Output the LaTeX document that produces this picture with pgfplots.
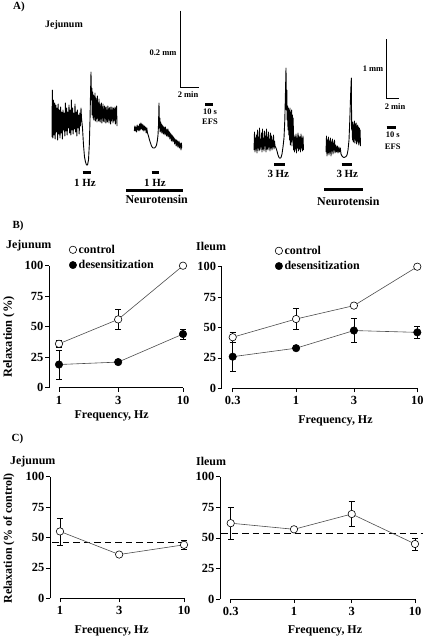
\documentclass[border=0pt]{standalone}
\usepackage{fontspec}
\setmainfont{Liberation Serif}
\usepackage{pgfplots}
\pgfplotsset{compat=1.18}
\pgfplotsset{
  canvas/.style={scale only axis, width=425bp, height=640bp, xmin=0, xmax=425, ymin=0, ymax=640,
    y dir=reverse, axis lines=none, clip=false, at={(0,0)}, anchor=north west},
  trace/.style={black, line width=0.9pt, line join=round, mark=none},
  sbar/.style={black, line width=0.8pt, mark=none},
  stim/.style={black, line width=3.5pt, mark=none},
  dataax/.style={scale only axis, xmax=10, ymin=0, ymax=100, clip=false,
    axis lines*=left, x axis line style={draw=none}, axis line style={line width=0.7pt},
    tick align=outside, major tick length=4bp, minor xtick={},
    tick style={black, line width=0.7pt},
    ytick={0,25,50,75,100}, yticklabels={0,25,50,75,100},
    ticklabel style={font=\fontsize{12.5}{14}\selectfont\bfseries},
    yticklabel style={inner sep=1.5pt},
    xticklabel style={yshift=-3bp, inner sep=1pt},
    legend cell align=left,
    legend image code/.code={\draw[##1] plot coordinates {(0cm,0cm)};},
    legend style={draw=none, fill=none, font=\fontsize{12}{14}\selectfont\bfseries,
      inner sep=0pt, row sep=1.5pt, anchor=north west}},
  err/.style={only marks, mark=none, forget plot, error bars/.cd, y dir=both, y explicit,
    error bar style={black, line width=0.6pt},
    error mark options={rotate=90, mark size=3bp, black, line width=0.6pt}},
  ctrl/.style={forget plot, black!70, line width=0.6pt, mark=*, mark size=3.7bp,
    mark options={fill=white, draw=black, line width=0.6pt}},
  desn/.style={forget plot, black!70, line width=0.6pt, mark=*, mark size=3.7bp,
    mark options={fill=black, draw=black}},
  axline/.style={black, line width=0.7pt, mark=none, forget plot},
}
\begin{document}
\bfseries
\begin{tikzpicture}
\path[use as bounding box] (0,0) rectangle (425bp,-640bp);
% ---------------- canvas: panel A and free text ----------------
\begin{axis}[canvas]
% trace 1
\addplot[trace] coordinates {
(52,137) (52.3,90) (52.8,138) (53.3,100) (54,135) (54.6,103) (55.2,139) (55.8,105) (56.4,132) (57,108)
(57.6,140) (58.2,104) (58.8,134) (59.4,110) (60,138) (60.6,107) (61.2,133) (61.8,112) (62.4,139) (63,110)
(63.6,130) (64.2,113) (64.8,136) (65.4,103) (66,131) (66.6,108) (67.2,135) (67.8,112) (68.4,128) (69,105)
(69.6,133) (70.2,110) (70.8,135) (71.4,100) (72,130) (72.6,108) (73.2,134) (73.8,113) (74.4,129) (75,104)
(75.6,132) (76.2,112) (76.8,136) (77.4,110) (78,128) (78.6,115) (79.2,134) (79.8,113) (80.4,126) (81,108)
(81.5,118) (82.5,128) (83.5,145) (84.5,157) (85.5,162) (86.5,165) (87.5,165) (88.5,160) (89.3,145) (90,120)
(90.5,95) (91,72) (91.4,100) (91.8,88) (92.2,115) (92.6,92) (93,118) (93.4,95) (93.8,120) (94.2,96)
(94.6,117) (95,93) (95.4,121) (95.8,98) (96.2,119) (96.6,100) (97,122) (97.4,96) (97.8,118) (98.2,103)
(98.6,121) (99,99) (99.4,120) (99.8,104) (100.2,122) (100.6,106) (101,119) (101.4,103) (101.8,123) (102.2,107)
(102.6,118) (103,104) (103.4,121) (103.8,109) (104.2,122) (104.6,106) (105,118) (105.4,108) (105.8,123) (106.2,107)
(106.6,120) (107,110) (107.4,122) (107.8,106) (108.2,119) (108.6,109) (109,123) (109.4,108) (109.8,120) (110.2,107)
(110.6,124) (111,110) (111.4,121) (111.8,107) (112.2,119) (112.6,110) (113,123) (113.4,108) (113.8,121) (114.2,109)
(114.6,120) (115,107) (115.4,124) (115.8,108) (116.2,119) (116.6,106) (117,126)};
% trace 2
\addplot[trace] coordinates {
(134.3,131) (134.8,126) (135.4,131) (136,127) (136.6,132) (137.2,125) (137.8,130) (138.4,126) (139,131) (139.6,124)
(140.2,130) (140.8,123) (141.4,129) (142,124) (142.6,130) (143.2,125) (143.8,131) (144.4,126) (145,130) (145.6,127)
(146.2,133) (146.8,128) (147.5,133) (148.5,136) (149.5,140) (150.5,143) (151.5,146) (152.5,147.5) (153.5,148) (154.5,148)
(155.5,147) (156.5,145) (157.3,141) (158,135) (158.5,125) (159,103) (159.4,128) (159.8,118) (160.2,132) (160.6,122)
(161,131) (161.4,124) (161.8,133) (162.2,125) (162.6,132) (163,126) (163.4,134) (163.8,127) (164.2,133) (164.6,128)
(165,135) (165.4,127) (165.8,134) (166.2,129) (166.6,136) (167,130) (167.4,135) (167.8,129) (168.2,137) (168.6,131)
(169,136) (169.4,132) (169.8,139) (170.2,133) (170.6,138) (171,134) (171.4,141) (171.8,135) (172.2,140) (172.6,136)
(173,142) (173.4,137) (173.8,141) (174.2,138) (174.6,144) (175,139) (175.4,143) (175.8,140) (176.2,146) (176.6,140)
(177,145) (177.4,141) (177.8,147) (178.2,142) (178.6,146) (179,141) (179.4,148) (179.8,143) (180.2,147) (180.6,144)
(181,150) (181.4,143) (181.8,148)};
% trace 3
\addplot[trace] coordinates {
(254,150) (254.5,132) (255,152) (255.5,138) (256,149) (256.5,135) (257,153) (257.5,130) (258,148) (258.5,137)
(259,151) (259.5,128) (260,150) (260.5,139) (261,147) (261.5,133) (262,152) (262.5,129) (263,149) (263.5,138)
(264,151) (264.5,131) (265,146) (265.5,136) (266,152) (266.5,129) (267,149) (267.5,137) (268,150) (268.5,132)
(269,147) (269.5,139) (270,151) (270.5,133) (271,148) (271.5,136) (272,150) (272.5,140) (273,147) (273.5,135)
(274,149) (274.5,141) (275,146) (276,148) (277,151) (278,155) (279,157.5) (280,158.3) (281,157.5) (282,154)
(283,147) (284,138) (284.8,120) (285.4,95) (286,68) (286.4,110) (286.8,90) (287.2,120) (287.6,106) (288,130)
(288.4,108) (288.8,135) (289.2,110) (289.6,140) (290,108) (290.4,145) (290.8,112) (291.2,142) (291.6,110) (292,146)
(292.4,115) (292.8,140) (293.2,118) (293.6,150) (294,135) (294.5,152) (295,137) (295.5,149) (296,134) (296.5,153)
(297,138) (297.5,148) (298,133) (298.5,151) (299,136) (299.5,149) (300,137) (300.5,152) (301,134) (301.5,148)
(302,138) (302.5,151) (303,136) (303.5,150)};
% trace 4
\addplot[trace] coordinates {
(326,152) (326.5,136) (327,156) (327.5,140) (328,153) (328.5,137) (329,155) (329.5,141) (330,152) (330.5,138)
(331,156) (331.5,142) (332,151) (332.5,139) (333,154) (333.5,143) (334,150) (334.5,140) (335,153) (335.7,145)
(336.5,152) (337.3,146) (338,153) (338.8,147) (339.5,152) (340.3,148) (341,154) (342,156) (343,157) (344,157.5)
(345,157) (346,156.5) (347,155) (348,150) (349,140) (349.8,120) (350.6,95) (351.3,78) (351.7,130) (352.1,124)
(352.5,140) (352.9,122) (353.3,142) (353.7,125) (354.1,139) (354.5,121) (354.9,143) (355.3,124) (355.7,140) (356.1,123)
(356.5,144) (356.9,126) (357.3,141) (357.7,125) (358.1,143) (358.5,127) (358.9,145) (359.3,128) (359.7,142) (360.1,130)
(360.5,146)};
% scale bars
\addplot[sbar] coordinates {(180.7,10.7) (180.7,87) (199,87)};
\addplot[sbar] coordinates {(386.7,39.3) (386.7,98.3) (399.3,98.3)};
\addplot[black, line width=3pt, mark=none] coordinates {(205,104.3) (213,104.3)};
\addplot[black, line width=3pt, mark=none] coordinates {(386.7,127.7) (396,127.7)};
% stimulation bars
\addplot[stim] coordinates {(82.7,172.7) (90.7,172.7)};
\addplot[stim] coordinates {(151.7,172.7) (159.3,172.7)};
\addplot[stim] coordinates {(274,164.7) (285,164.7)};
\addplot[stim] coordinates {(341.7,164.7) (351.7,164.7)};
\addplot[black, line width=3pt, mark=none] coordinates {(126,190) (182.7,190)};
\addplot[black, line width=3pt, mark=none] coordinates {(324,189.3) (362.7,189.3)};
% texts panel A
\node[font=\fontsize{11}{13}\selectfont\bfseries] at (axis cs:19,7) {A)};
\node[font=\fontsize{10}{12}\selectfont\bfseries] at (axis cs:64,25) {Jejunum};
\node[font=\fontsize{8.5}{10}\selectfont\bfseries] at (axis cs:163,53) {0.2 mm};
\node[font=\fontsize{8.5}{10}\selectfont\bfseries] at (axis cs:188,95) {2 min};
\node[font=\fontsize{8.5}{10}\selectfont\bfseries] at (axis cs:210,111.7) {10 s};
\node[font=\fontsize{8.5}{10}\selectfont\bfseries] at (axis cs:210,122) {EFS};
\node[font=\fontsize{11}{13}\selectfont\bfseries] at (axis cs:85,183.3) {1 Hz};
\node[font=\fontsize{11}{13}\selectfont\bfseries] at (axis cs:155,183.3) {1 Hz};
\node[font=\fontsize{12}{14}\selectfont\bfseries] at (axis cs:156.7,199.5) {Neurotensin};
\node[font=\fontsize{8.5}{10}\selectfont\bfseries] at (axis cs:373,69) {1 mm};
\node[font=\fontsize{8.5}{10}\selectfont\bfseries] at (axis cs:395,106.7) {2 min};
\node[font=\fontsize{8.5}{10}\selectfont\bfseries] at (axis cs:392.7,135) {10 s};
\node[font=\fontsize{8.5}{10}\selectfont\bfseries] at (axis cs:392.7,147) {EFS};
\node[font=\fontsize{11}{13}\selectfont\bfseries] at (axis cs:278.3,174) {3 Hz};
\node[font=\fontsize{11}{13}\selectfont\bfseries] at (axis cs:347.3,174) {3 Hz};
\node[font=\fontsize{12}{14}\selectfont\bfseries] at (axis cs:348.3,201) {Neurotensin};
% texts panels B, C
\node[font=\fontsize{11}{13}\selectfont\bfseries] at (axis cs:18,226) {B)};
\node[font=\fontsize{12}{14}\selectfont\bfseries, anchor=west, inner sep=0pt] at (axis cs:6,246) {Jejunum};
\node[font=\fontsize{12}{14}\selectfont\bfseries, anchor=west, inner sep=0pt] at (axis cs:196,246) {Ileum};
\node[font=\fontsize{12}{14}\selectfont\bfseries] at (axis cs:111.7,416) {Frequency, Hz};
\node[font=\fontsize{12}{14}\selectfont\bfseries] at (axis cs:335.5,421) {Frequency, Hz};
\node[font=\fontsize{12.5}{14}\selectfont\bfseries, rotate=90] at (axis cs:9,337) {Relaxation (\%)};
\node[font=\fontsize{11}{13}\selectfont\bfseries] at (axis cs:17.5,439) {C)};
\node[font=\fontsize{12}{14}\selectfont\bfseries, anchor=west, inner sep=0pt] at (axis cs:10,461.7) {Jejunum};
\node[font=\fontsize{12}{14}\selectfont\bfseries, anchor=west, inner sep=0pt] at (axis cs:196,461.7) {Ileum};
\node[font=\fontsize{12}{14}\selectfont\bfseries] at (axis cs:111.7,631) {Frequency, Hz};
\node[font=\fontsize{12}{14}\selectfont\bfseries] at (axis cs:325,631) {Frequency, Hz};
\node[font=\fontsize{12}{14}\selectfont\bfseries, rotate=90] at (axis cs:9,538.3) {Relaxation (\% of control)};
\end{axis}
% ---------------- B Jejunum ----------------
\begin{axis}[xmode=log, dataax, at={(49bp,-387.7bp)}, anchor=south west, width=134bp, height=122bp,
  xmin=0.8307, xtick={1,3,10}, xticklabels={1,3,10},
  legend style={at={(axis cs:1.205,100)}, yshift=23bp}]
\addplot[axline] coordinates {(1,0) (10,0)};
\addplot[err] table[x=x, y=y, y error=e] {
x y e
1 19 12
3 21 0
10 44 4
};
\addplot[err] table[x=x, y=y, y error=e] {
x y e
1 36 3
3 56 8
10 100 0
};
\addplot[desn] table[x=x, y=y] {
x y
1 19
3 21
10 44
};
\addplot[ctrl] table[x=x, y=y] {
x y
1 36
3 56
10 100
};
\addlegendimage{only marks, mark=*, mark size=3.7bp, mark options={fill=white, draw=black, line width=0.6pt}}
\addlegendentry{control}
\addlegendimage{only marks, mark=*, mark size=3.7bp, mark options={fill=black, draw=black}}
\addlegendentry{desensitization}
\end{axis}
% ---------------- B Ileum ----------------
\begin{axis}[xmode=log, dataax, at={(221.7bp,-388.3bp)}, anchor=south west, width=195.6bp, height=121.6bp,
  xmin=0.2434, xtick={0.3,1,3,10}, xticklabels={0.3,1,3,10},
  legend style={at={(axis cs:0.670,100)}, yshift=23bp}]
\addplot[axline] coordinates {(0.3,0) (10,0)};
\addplot[err] table[x=x, y=y, y error=e] {
x y e
0.3 26 12
1 33 0
3 47.5 10
10 46 5
};
\addplot[err] table[x=x, y=y, y error=e] {
x y e
0.3 42 4
1 57 8.5
3 68 0
10 100 0
};
\addplot[desn] table[x=x, y=y] {
x y
0.3 26
1 33
3 47.5
10 46
};
\addplot[ctrl] table[x=x, y=y] {
x y
0.3 42
1 57
3 68
10 100
};
\addlegendimage{only marks, mark=*, mark size=3.7bp, mark options={fill=white, draw=black, line width=0.6pt}}
\addlegendentry{control}
\addlegendimage{only marks, mark=*, mark size=3.7bp, mark options={fill=black, draw=black}}
\addlegendentry{desensitization}
\end{axis}
% ---------------- C Jejunum ----------------
\begin{axis}[xmode=log, dataax, at={(50bp,-598.3bp)}, anchor=south west, width=134bp, height=121.6bp,
  xmin=0.8307, xtick={1,3,10}, xticklabels={1,3,10}]
\addplot[axline] coordinates {(1,0) (10,0)};
\addplot[black, line width=0.7pt, dash pattern=on 6.5bp off 4bp, mark=none, forget plot] coordinates {(0.87,46) (10,46)};
\addplot[err] table[x=x, y=y, y error=e] {
x y e
1 55 11
3 36 0
10 44 4
};
\addplot[ctrl] table[x=x, y=y] {
x y
1 55
3 36
10 44
};
\end{axis}
% ---------------- C Ileum ----------------
\begin{axis}[xmode=log, dataax, at={(220bp,-599bp)}, anchor=south west, width=195bp, height=122.3bp,
  xmin=0.2447, xtick={0.3,1,3,10}, xticklabels={0.3,1,3,10}]
\addplot[axline] coordinates {(0.3,0) (10,0)};
\addplot[black, line width=0.7pt, dash pattern=on 6.5bp off 4bp, mark=none, forget plot] coordinates {(0.25,54) (11.6,54)};
\addplot[err] table[x=x, y=y, y error=e] {
x y e
0.3 62 13
1 57 0
3 69.5 10
10 45 5
};
\addplot[ctrl] table[x=x, y=y] {
x y
0.3 62
1 57
3 69.5
10 45
};
\end{axis}
\end{tikzpicture}
\end{document}
